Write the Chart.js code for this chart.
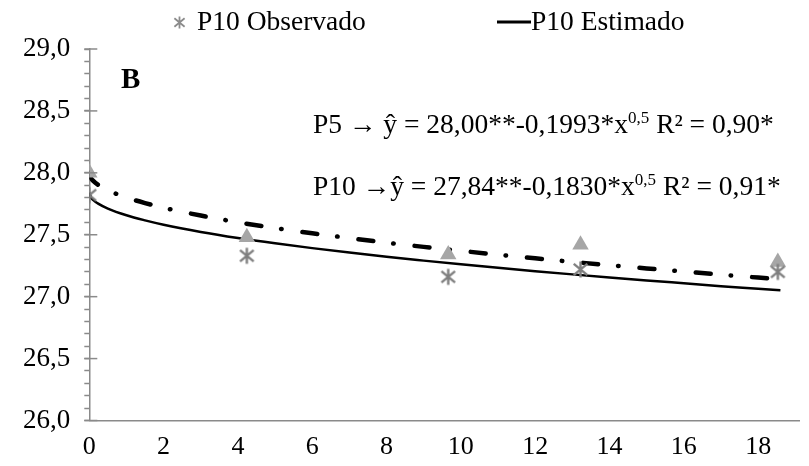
<!DOCTYPE html>
<html>
<head>
<meta charset="utf-8">
<script src="https://cdn.jsdelivr.net/npm/chart.js@4.4.1/dist/chart.umd.min.js"></script>
<style>
  html, body { margin: 0; padding: 0; background: #fff; }
  #wrap { width: 809px; height: 466px; }
</style>
</head>
<body>
<div id="wrap"><canvas id="chart" width="809" height="466"></canvas></div>
<script>
// Fitted curves
const curveX = [0, 0.05, 0.1, 0.25, 0.5, 1, 1.5, 2, 3, 4, 5, 6, 7, 8, 9, 10, 11, 12, 13, 14, 15, 16, 17, 18, 18.6];
const p5Est = [28.000, 27.955, 27.937, 27.900, 27.859, 27.801, 27.756, 27.718, 27.655, 27.601, 27.554, 27.512, 27.473, 27.436, 27.402, 27.370, 27.339, 27.310, 27.281, 27.254, 27.228, 27.203, 27.178, 27.154, 27.140];
const p10Est = [27.840, 27.799, 27.782, 27.749, 27.711, 27.657, 27.616, 27.581, 27.523, 27.474, 27.431, 27.392, 27.356, 27.322, 27.291, 27.261, 27.233, 27.206, 27.180, 27.155, 27.131, 27.108, 27.085, 27.064, 27.051];

// Observed points
const obsX = [0, 4.24, 9.66, 13.22, 18.53];
const p5Obs = [28.00, 27.48, 27.34, 27.42, 27.28];
const p10Obs = [27.82, 27.33, 27.16, 27.22, 27.20];

const xTicks = [0, 2, 4, 6, 8, 10, 12, 14, 16, 18];
const yMajor = [26.0, 26.5, 27.0, 27.5, 28.0, 28.5, 29.0];

const eqP5 = [['P5 \u2192 \u0177 = 28,00**-0,1993*x', false], ['0,5', true], [' R\u00b2 = 0,90*', false]];
const eqP10 = [['P10 \u2192\u0177 = 27,84**-0,1830*x', false], ['0,5', true], [' R\u00b2 = 0,91*', false]];

const FONT = "'Liberation Serif', 'Times New Roman', serif";
const AXIS_GRAY = '#8a8a8a';

// asterisk marker like the spreadsheet one (X plus a vertical bar)
function makeAsterisk(size, color, lw) {
    const c = document.createElement('canvas');
    c.width = size; c.height = size;
    const g = c.getContext('2d');
    const m = size / 2, r = size / 2 - 1.5;
    g.strokeStyle = color;
    g.lineWidth = lw;
    g.beginPath();
    g.moveTo(m, m - r); g.lineTo(m, m + r);
    g.moveTo(m - r * 0.85, m - r * 0.7); g.lineTo(m + r * 0.85, m + r * 0.7);
    g.moveTo(m + r * 0.85, m - r * 0.7); g.lineTo(m - r * 0.85, m + r * 0.7);
    g.stroke();
    return c;
}
const asterisk = makeAsterisk(19, '#7f7f7f', 2.4);
const legendAsterisk = makeAsterisk(15, '#8c8c8c', 1.8);

function toPoints(xs, ys) {
    return xs.map((x, i) => ({ x: x, y: ys[i] }));
}

function drawRich(ctx, x, y, parts, size) {
    let cx = x;
    parts.forEach(p => {
        const sup = p[1];
        ctx.font = (sup ? size * 0.62 : size) + 'px ' + FONT;
        ctx.fillText(p[0], cx, sup ? y - size * 0.38 : y);
        cx += ctx.measureText(p[0]).width;
    });
}

// extra drawing: crossing major ticks, legend, labels
const decorations = {
    id: 'decorations',
    afterDraw(chart) {
        const ctx = chart.ctx;
        const ys = chart.scales.y;
        const ax = chart.chartArea.left;
        ctx.save();
        ctx.strokeStyle = AXIS_GRAY;
        ctx.lineWidth = 1.5;
        yMajor.forEach(v => {
            const py = ys.getPixelForValue(v);
            ctx.beginPath();
            ctx.moveTo(ax - 5, py);
            ctx.lineTo(ax + 8, py);
            ctx.stroke();
        });

        // legend
        ctx.fillStyle = '#000';
        ctx.textBaseline = 'middle';
        ctx.font = '27.5px ' + FONT;
        ctx.drawImage(legendAsterisk, 172, 15);
        ctx.fillText('P10 Observado', 197, 23);
        ctx.strokeStyle = '#000';
        ctx.lineWidth = 3;
        ctx.beginPath();
        ctx.moveTo(497, 22);
        ctx.lineTo(531, 22);
        ctx.stroke();
        ctx.fillText('P10 Estimado', 531, 23);

        // panel letter
        ctx.font = 'bold 29px ' + FONT;
        ctx.fillText('B', 121, 81);

        // equations
        ctx.textBaseline = 'alphabetic';
        drawRich(ctx, 313, 133, eqP5, 27.5);
        drawRich(ctx, 313, 195, eqP10, 27.5);
        ctx.restore();
    }
};

new Chart(document.getElementById('chart'), {
    type: 'scatter',
    data: {
        datasets: [
            {
                label: 'P10 Observado',
                data: toPoints(obsX, p10Obs),
                pointStyle: asterisk,
                pointRadius: 9
            },
            {
                label: 'P5 Observado',
                data: toPoints(obsX, p5Obs),
                pointStyle: 'triangle',
                pointRadius: 9.5,
                backgroundColor: '#a6a6a6',
                borderColor: '#a6a6a6',
                borderWidth: 0
            },
            {
                label: 'P10 Estimado',
                type: 'line',
                data: toPoints(curveX, p10Est),
                borderColor: '#000',
                borderWidth: 2.5,
                pointRadius: 0,
                fill: false,
                cubicInterpolationMode: 'monotone'
            },
            {
                label: 'P5 Estimado',
                type: 'line',
                data: toPoints(curveX, p5Est),
                borderColor: '#000',
                borderWidth: 4.5,
                borderDash: [15, 20, 0.5, 21],
                borderCapStyle: 'round',
                pointRadius: 0,
                fill: false,
                cubicInterpolationMode: 'monotone'
            }
        ]
    },
    options: {
        responsive: false,
        animation: false,
        events: [],
        layout: { padding: { top: 49, right: 0, left: 0, bottom: 0 } },
        plugins: {
            legend: { display: false },
            tooltip: { enabled: false }
        },
        scales: {
            x: {
                type: 'linear',
                min: 0,
                max: 19.1,
                afterBuildTicks: scale => {
                    scale.ticks = xTicks.map(v => ({ value: v }));
                },
                afterFit: scale => { scale.height = 45.5; },
                border: { display: true, color: AXIS_GRAY, width: 1.5 },
                grid: { display: false, drawTicks: false },
                ticks: {
                    color: '#000',
                    padding: 11,
                    maxRotation: 0,
                    autoSkip: false,
                    font: { family: FONT, size: 26 }
                }
            },
            y: {
                type: 'linear',
                min: 26,
                max: 29,
                afterBuildTicks: scale => {
                    const t = [];
                    for (let i = 0; i <= 30; i++) t.push({ value: 26 + i / 10 });
                    scale.ticks = t;
                },
                afterFit: scale => { scale.width = 89.3; },
                border: { display: true, color: AXIS_GRAY, width: 1.5 },
                grid: {
                    drawOnChartArea: false,
                    drawTicks: true,
                    tickLength: 5,
                    tickColor: AXIS_GRAY,
                    tickWidth: 1.5
                },
                ticks: {
                    color: '#000',
                    padding: 14,
                    autoSkip: false,
                    font: { family: FONT, size: 27 },
                    callback: v => (Math.round(v * 10) % 5 === 0 ? v.toFixed(1).replace('.', ',') : '')
                }
            }
        }
    },
    plugins: [decorations]
});
</script>
</body>
</html>
